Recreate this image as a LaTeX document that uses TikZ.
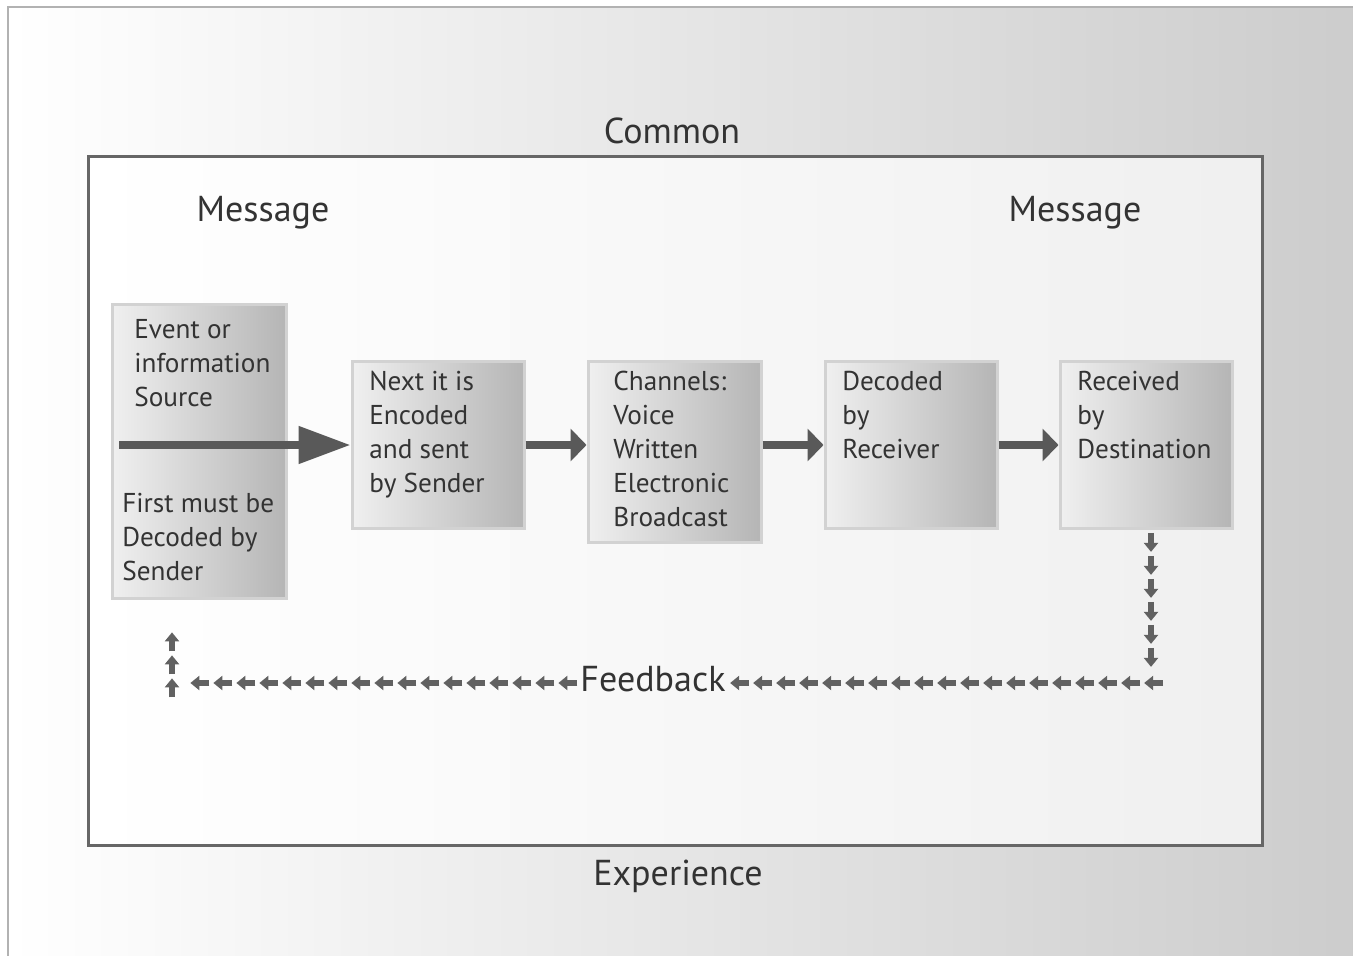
\documentclass[tikz,border=0pt]{standalone}
\usepackage{fontspec}
\setmainfont{PT Sans}
\usetikzlibrary{arrows.meta,decorations.markings}

\begin{document}
\begin{tikzpicture}
\tikzset{box/.style = {draw=gray!35,line width=0.06cm,left color=gray!12,right color=gray!58,inner sep=0pt}}
\tikzset{txt/.style = {anchor=north west,inner sep=0pt,align=left,text=black!80,font=\fontsize{15.5}{19.3}\selectfont}}
\tikzset{lbl/.style = {text=black!80,font=\fontsize{20.5}{24}\selectfont}}
\tikzset{flow/.style = {-{Triangle[length=0.32cm,width=0.64cm]},line width=0.16cm,draw=black!65}}
\tikzset{fbtip/.style = {-{Triangle[length=0.18cm,width=0.28cm]},line width=0.11cm,draw=black!62}}
\tikzset{fbline/.style = {decoration={markings,mark=between positions 0.4cm and 1 step 0.46cm with {\draw[fbtip] (-0.38cm,0) -- (0,0);}},decorate}}
\tikzset{fbback/.style = {decoration={markings,mark=between positions 0.05cm and 1 step 0.46cm with {\draw[fbtip] (0.38cm,0) -- (0,0);}},decorate}}
\useasboundingbox (0,0) rectangle (27.06,19.1);
% frames
\draw[gray!60,line width=0.04cm,left color=white,right color=gray!40] (0.16,-0.2) rectangle (27.3,18.96);
\draw[black!60,line width=0.06cm,left color=white,right color=gray!12] (1.76,2.2) rectangle (25.24,15.96);
\node[lbl] (common) at (13.44,16.48) {Common};
\node[lbl] (exper) at (13.56,1.58) {Experience};
\node[lbl] (msgL) at (5.26,14.84) {Message};
\node[lbl] (msgR) at (21.5,14.84) {Message};
% boxes
\node[box,minimum width=3.48cm,minimum height=5.86cm] (src) at (3.98,10.07) {};
\node[box,minimum width=3.44cm,minimum height=3.32cm] (enc) at (8.76,10.2) {};
\node[box,minimum width=3.46cm,minimum height=3.6cm] (chan) at (13.49,10.06) {};
\node[box,minimum width=3.44cm,minimum height=3.32cm] (dec) at (18.22,10.2) {};
\node[box,minimum width=3.44cm,minimum height=3.32cm] (rcv) at (22.92,10.2) {};
\node[txt] (srctop) at (2.68,12.72) {Event or\\information\\Source};
\node[txt] (srcbot) at (2.44,9.24) {First must be\\Decoded by\\Sender};
\node[txt] (enctxt) at (7.38,11.68) {Next it is\\Encoded\\and sent\\by Sender};
\node[txt] (chantxt) at (12.26,11.68) {Channels:\\Voice\\Written\\Electronic\\Broadcast};
\node[txt] (dectxt) at (16.84,11.68) {Decoded\\by\\Receiver};
\node[txt] (rcvtxt) at (21.54,11.68) {Received\\by\\Destination};
% arrows
\coordinate (start) at (2.38,10.2);
\draw[flow,-{Triangle[length=1.04cm,width=0.72cm]}] (start) -- (enc.west);
\draw[flow] (enc.east) -- (enc.east -| chan.west);
\draw[flow] (chan.east |- dec.west) -- (dec.west);
\draw[flow] (dec.east) -- (rcv.west);
% feedback
\node[lbl,inner sep=1pt] (fb) at (13.06,5.52) {Feedback};
\coordinate (fbR) at (23.02,8.4);
\coordinate (fbL) at (3.44,6.9);
\path[fbback] ([yshift=-0.08cm]fb.east) -| (fbR);
\path[fbline] ([yshift=-0.08cm]fb.west) -| (fbL);
\end{tikzpicture}
\end{document}
